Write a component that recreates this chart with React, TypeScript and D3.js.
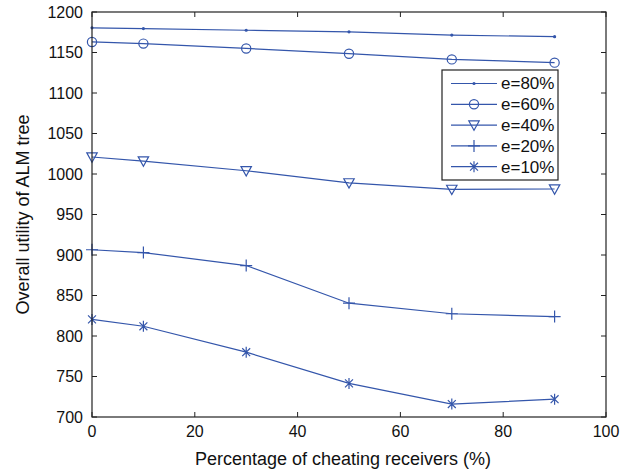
import React from "react";
import * as d3 from "d3";

const xValues = [0, 10, 30, 50, 70, 90];
const seriesNames = ["e=80%", "e=60%", "e=40%", "e=20%", "e=10%"];
const e80 = [1180.5, 1179.5, 1177.5, 1175.5, 1171.5, 1169.5];
const e60 = [1163, 1161, 1155, 1148.5, 1141.5, 1137.5];
const e40 = [1021, 1016, 1004, 989, 981, 981.5];
const e20 = [906.5, 903, 887, 840.5, 827.5, 824];
const e10 = [820.5, 812, 780, 741.5, 716, 722];
const markers = ["point", "circle", "triangle", "plus", "star"];
const xTicks = [0, 20, 40, 60, 80, 100];
const yTicks = [700, 750, 800, 850, 900, 950, 1000, 1050, 1100, 1150, 1200];

const W = 632, H = 472;
const L = 92, R = 606, T = 12, B = 417;
const COLOR = "#3456ab";
const FONT = "'Liberation Sans', Arial, sans-serif";

function Marker({ type, x, y }: { type: string; x: number; y: number }) {
  const s = COLOR;
  if (type === "point") return <circle cx={x} cy={y} r={1.6} fill={s} />;
  if (type === "circle") return <circle cx={x} cy={y} r={4.6} fill="none" stroke={s} strokeWidth={1.2} />;
  if (type === "triangle") {
    const w = 5.2, h = 5.2;
    return <path d={`M${x - w},${y - h * 0.8}L${x + w},${y - h * 0.8}L${x},${y + h}Z`} fill="none" stroke={s} strokeWidth={1.2} />;
  }
  if (type === "plus") {
    const r = 6;
    return <path d={`M${x - r},${y}L${x + r},${y}M${x},${y - r}L${x},${y + r}`} stroke={s} strokeWidth={1.2} />;
  }
  const r = 5.5;
  const d = r * 0.72;
  return (
    <path
      d={`M${x},${y - r}L${x},${y + r}M${x - d},${y - d}L${x + d},${y + d}M${x - d},${y + d}L${x + d},${y - d}`}
      stroke={s}
      strokeWidth={1.2}
    />
  );
}

export default function App() {
  const x = d3.scaleLinear().domain([0, 100]).range([L, R]);
  const y = d3.scaleLinear().domain([700, 1200]).range([B, T]);
  const series = [e80, e60, e40, e20, e10];
  const line = d3
    .line<number>()
    .x((_, i) => x(xValues[i]))
    .y((v) => y(v));

  const legX = 442, legY = 70, legW = 116, legH = 110;
  const rowY = (i: number) => 83.5 + i * 20.8;

  return (
    <svg width={W} height={H} style={{ position: "absolute", left: 0, top: 0, background: "#fff" }}>
      <rect x={0} y={0} width={W} height={H} fill="#fff" />
      {series.map((vals, si) => (
        <g key={si}>
          <path d={line(vals) || ""} fill="none" stroke={COLOR} strokeWidth={1.2} />
          {vals.map((v, i) => (
            <Marker key={i} type={markers[si]} x={x(xValues[i])} y={y(v)} />
          ))}
        </g>
      ))}
      {xTicks.map((t) => (
        <g key={"xt" + t}>
          <line x1={x(t)} x2={x(t)} y1={B} y2={B - 5} stroke="#222" />
          <line x1={x(t)} x2={x(t)} y1={T} y2={T + 5} stroke="#222" />
          <text x={x(t)} y={437} textAnchor="middle" fontFamily={FONT} fontSize={16} fill="#111">
            {t}
          </text>
        </g>
      ))}
      {yTicks.map((t) => (
        <g key={"yt" + t}>
          <line x1={L} x2={L + 5} y1={y(t)} y2={y(t)} stroke="#222" />
          <line x1={R} x2={R - 5} y1={y(t)} y2={y(t)} stroke="#222" />
          <text x={83} y={y(t)} dy="0.35em" textAnchor="end" fontFamily={FONT} fontSize={16} fill="#111">
            {t}
          </text>
        </g>
      ))}
      <rect x={L} y={T} width={R - L} height={B - T} fill="none" stroke="#222" strokeWidth={1.2} />
      <rect x={legX} y={legY} width={legW} height={legH} fill="#fff" stroke="#222" strokeWidth={1.2} />
      {seriesNames.map((n, i) => (
        <g key={n}>
          <line x1={451} x2={497} y1={rowY(i)} y2={rowY(i)} stroke={COLOR} strokeWidth={1.2} />
          <Marker type={markers[i]} x={474} y={rowY(i)} />
          <text x={501} y={rowY(i)} dy="0.35em" fontFamily={FONT} fontSize={17} fill="#111">
            {n}
          </text>
        </g>
      ))}
      <text x={343} y={465} textAnchor="middle" fontFamily={FONT} fontSize={18} fill="#111">
        Percentage of cheating receivers (%)
      </text>
      <text
        transform={`translate(29,${(T + B) / 2}) rotate(-90)`}
        textAnchor="middle"
        fontFamily={FONT}
        fontSize={18}
        fill="#111"
      >
        Overall utility of ALM tree
      </text>
    </svg>
  );
}
